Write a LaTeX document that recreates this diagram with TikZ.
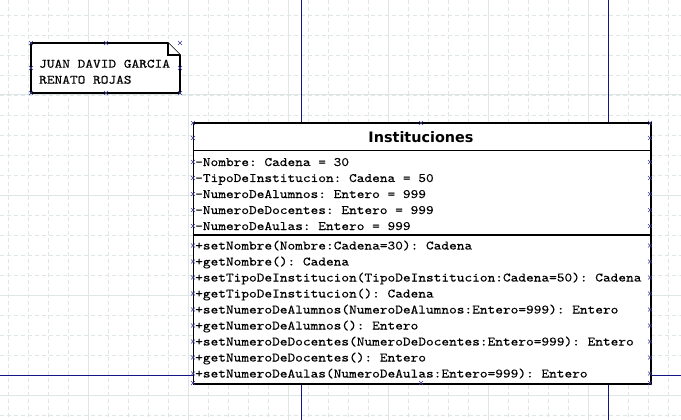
\documentclass[tikz,border=0pt]{standalone}
\usepackage{fontspec}
\setmainfont{Liberation Serif}
\newfontfamily\monofnt{lmmono10-regular}[Extension=.otf, FakeStretch=1.145, FakeBold=0.2]
\newfontfamily\headfnt{DejaVu Sans}
\definecolor{gridc}{RGB}{222,230,230}
\definecolor{pagec}{RGB}{20,20,130}
\definecolor{handc}{RGB}{60,60,150}
\tikzset{
  griddash/.style={draw=gridc, line width=0.7pt, dash pattern=on 4pt off 3pt},
  gridsolid/.style={draw=gridc, line width=1pt},
  pageline/.style={draw=pagec, line width=1pt},
  classbox/.style={draw=black, fill=white, line width=1.7pt, rectangle, inner sep=0pt},
  sepline/.style={draw=black, line width=1.7pt},
  notebox/.style={draw=black, fill=white, line width=1.6pt, line join=miter},
  mono/.style={font=\monofnt\fontsize{12.8}{16}\selectfont\frenchspacing, inner sep=0pt, anchor=base west, text=black},
  headtxt/.style={font=\headfnt\bfseries\fontsize{14.4}{17}\selectfont, inner sep=0pt, anchor=base, text=black},
  hx/.pic={\draw[draw=handc, line width=0.6pt] (-2,-2)--(2,2) (-2,2)--(2,-2);}
}
\begin{document}
\frenchspacing
\begin{tikzpicture}[x=1pt,y=-1pt]
\useasboundingbox (0,0) rectangle (681,420);
\fill[white] (0,0) rectangle (681,420);
% grid
\foreach \x in {8,28,...,668} \draw[griddash] (\x,0) -- (\x,420);
\foreach \y in {15,35,...,415} \draw[griddash] (0,\y) -- (681,\y);
\foreach \x in {88,188,...,588} \draw[gridsolid] (\x,0) -- (\x,420);
\foreach \y in {95,195,295,395} \draw[gridsolid] (0,\y) -- (681,\y);
% page boundaries
\draw[pageline] (301,0) -- (301,420);
\draw[pageline] (608,0) -- (608,420);
\draw[pageline] (0,375) -- (681,375);
% note
\draw[notebox] (31,43) -- (168,43) -- (180,55) -- (180,93) -- (31,93) -- cycle;
\draw[notebox] (168,43) -- (168,55) -- (180,55);
\node[mono] (note1) at (39,67.7) {JUAN DAVID GARCIA};
\node[mono] (note2) at (39,83.7) {RENATO ROJAS};
\foreach \p in {(31,43),(106,43),(180,43),(31,68),(180,68),(31,93),(106,93),(180,93)}
  \pic at \p {hx};
% class box
\node[classbox, minimum width=457.5pt, minimum height=260.5pt, anchor=north west] (cls) at (192.5,122.5) {};
\draw[sepline] (192.5,150.5) -- (650,150.5);
\draw[sepline] (192.5,235) -- (650,235);
\node[headtxt] (title) at (421,142.5) {Instituciones};
\node[mono] (a1) at (195,166) {-Nombre: Cadena = 30};
\node[mono] (a2) at (195,182) {-TipoDeInstitucion: Cadena = 50};
\node[mono] (a3) at (195,198) {-NumeroDeAlumnos: Entero = 999};
\node[mono] (a4) at (195,214) {-NumeroDeDocentes: Entero = 999};
\node[mono] (a5) at (195,230) {-NumeroDeAulas: Entero = 999};
\node[mono] (m1) at (195,249.5) {+setNombre(Nombre:Cadena=30): Cadena};
\node[mono] (m2) at (195,265.5) {+getNombre(): Cadena};
\node[mono] (m3) at (195,281.5) {+setTipoDeInstitucion(TipoDeInstitucion:Cadena=50): Cadena};
\node[mono] (m4) at (195,297.5) {+getTipoDeInstitucion(): Cadena};
\node[mono] (m5) at (195,313.5) {+setNumeroDeAlumnos(NumeroDeAlumnos:Entero=999): Entero};
\node[mono] (m6) at (195,329.5) {+getNumeroDeAlumnos(): Entero};
\node[mono] (m7) at (195,345.5) {+setNumeroDeDocentes(NumeroDeDocentes:Entero=999): Entero};
\node[mono] (m8) at (195,361.5) {+getNumeroDeDocentes(): Entero};
\node[mono] (m9) at (195,377.5) {+setNumeroDeAulas(NumeroDeAulas:Entero=999): Entero};
% selection handles
\foreach \y in {123,138,162,178,194,210,226,245.5,261.5,277.5,293.5,309.5,325.5,341.5,357.5,373.5,383} {
  \pic at (193,\y) {hx};
  \pic at (650,\y) {hx};
}
\pic at (421,123) {hx};
\pic at (421,383) {hx};
\end{tikzpicture}
\end{document}
